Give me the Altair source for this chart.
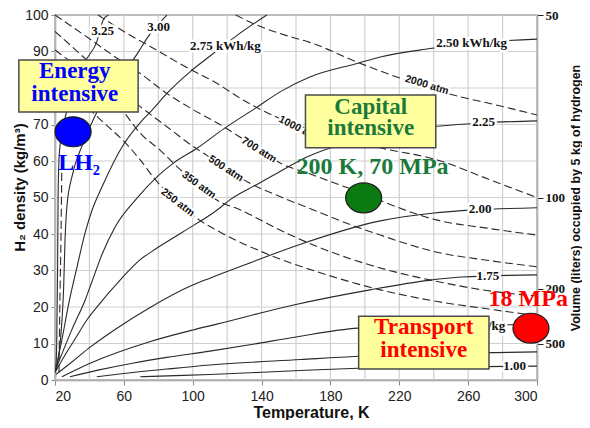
import altair as alt
import pandas as pd

# ---------------- axes ----------------
x_ticks = [20, 60, 100, 140, 180, 220, 260, 300]
y_ticks = [0, 10, 20, 30, 40, 50, 60, 70, 80, 90, 100]
grid_T = [20, 40, 60, 80, 100, 120, 140, 160, 180, 200, 220, 240, 260, 280, 300]
grid_d = [0, 10, 20, 30, 40, 50, 60, 70, 80, 90, 100]
volume_ticks = [50, 100, 200, 500]          # liters occupied by 5 kg H2
H2_MASS_KG = 5

# ---------------- constant-energy curves (kWh/kg), solid ----------------
T_325 = [20.3, 21.0, 21.5, 21.8, 22.5, 25.0, 30.0, 37.5, 44.3, 48.0, 51.0]
D_325 = [2, 10, 30, 50, 62, 70, 78, 87.2, 92.7, 98.6, 100]
T_300 = [20.5, 22.5, 24, 25, 25.8, 27, 30, 36, 43.5, 58.8, 68.5, 73.4, 85]
D_300 = [2.5, 8, 16, 25, 38, 48, 56, 64.5, 72.6, 83.1, 89.9, 93.6, 100]
T_275 = [20.5, 24, 28, 32.8, 37.6, 41.5, 47.4, 59, 69.5, 76.5, 85, 98.6, 108, 126, 143]
D_275 = [3, 11, 21, 31, 40.5, 46.5, 53, 63.9, 70.5, 74, 78.5, 84.5, 88, 94.5, 100]
T_250 = [20.5, 30, 37.6, 41.5, 47.4, 55, 67, 80, 89, 102.5, 118, 137.5, 151, 168, 196, 209, 238, 262, 300]
D_250 = [3, 14, 22, 27, 34.5, 42, 49.5, 56, 59.5, 63.5, 68.8, 74.8, 79, 83, 86.8, 88.5, 90.8, 92.3, 93.4]
T_225 = [20.5, 26, 32, 38.6, 43.5, 59, 69.5, 76.5, 94, 114, 122, 137, 151, 166, 200, 242, 270, 300]
D_225 = [2.5, 7, 11.5, 16.5, 19.5, 28, 33, 35.3, 40.5, 46.5, 49.5, 53.5, 57.2, 61, 66.3, 69.5, 70.5, 71]
T_200 = [20.5, 30, 40.4, 56, 75, 100, 110, 130, 162.6, 209, 239, 264, 300]
D_200 = [1.5, 5, 9, 14.2, 19.8, 26, 27.9, 31.5, 37.2, 43.6, 45.7, 46.6, 47.2]
T_175 = [24, 40.4, 75, 100, 114, 158, 203, 237, 256, 300]
D_175 = [0.9, 4.6, 10.5, 13.7, 15.3, 20.5, 24.7, 27.3, 28.2, 28.8]
T_150 = [28.7, 45, 65, 85, 110, 135, 160, 196, 240, 300]
D_150 = [0.9, 2.7, 4.6, 6.2, 7.9, 9.8, 11.8, 14.2, 14.9, 15.2]
T_125 = [44.3, 60, 85, 110, 162.6, 196, 250, 300]
D_125 = [0.9, 1.8, 3.0, 4.1, 5.6, 6.5, 7.3, 7.7]
T_100 = [69.5, 90, 110, 162.6, 196, 250, 300]
D_100 = [0.9, 1.2, 1.5, 2.6, 3.2, 3.6, 3.8]

# ---------------- isobars (atm), dashed ----------------
T_250atm = [20, 43.5, 63, 69.5, 78.4, 91, 104, 114, 145, 178, 209, 242, 271, 300]
D_250atm = [84, 72.6, 63.9, 60.3, 54.8, 49, 43.8, 41, 34.2, 28.8, 24.7, 21.5, 19.5, 17.6]
T_350atm = [20, 40, 59, 69.5, 81, 91, 103, 114, 127.7, 151, 178, 203, 242, 271, 300]
D_350atm = [90.4, 83, 74, 67.6, 63, 58.4, 53.6, 49.3, 46.6, 41, 35.5, 31.5, 27, 24.5, 23]
T_500atm = [20, 40, 55, 69.5, 85, 100.5, 108, 119, 131.6, 151, 168, 192, 209, 242, 271, 300]
D_500atm = [95.5, 87, 80.5, 74.9, 69.4, 63.9, 61.6, 58, 54.3, 50.2, 47, 42.5, 39.7, 35, 32.8, 31]
T_700atm = [20, 40, 55, 69.5, 85, 100.5, 118, 126, 138, 151, 168, 185, 200, 211, 242, 271, 300]
D_700atm = [100, 93.5, 88.5, 84, 78.5, 74, 69.4, 67, 63.2, 59.4, 56.5, 53.5, 51, 48.8, 43.8, 41.6, 39.7]
T_1000atm = [45, 60, 79, 95, 114, 130, 149, 180, 210, 242, 273, 300]
D_1000atm = [100, 95.5, 90.4, 86, 81.3, 76.5, 72, 67, 63.5, 60.3, 54.8, 50]
T_2000atm = [125, 135, 157, 168, 196, 221, 252, 275, 300]
D_2000atm = [100, 97.7, 94, 92.5, 87, 82.6, 78, 75.5, 72.6]
T_low = [22.3, 22.8, 23.5, 24.0]
D_low = [2, 20, 40, 60]

energy_curves = {
    "3.25": (T_325, D_325), "3.00": (T_300, D_300), "2.75": (T_275, D_275),
    "2.50": (T_250, D_250), "2.25": (T_225, D_225), "2.00": (T_200, D_200),
    "1.75": (T_175, D_175), "1.50": (T_150, D_150), "1.25": (T_125, D_125),
    "1.00": (T_100, D_100),
}
isobars = {
    "250": (T_250atm, D_250atm), "350": (T_350atm, D_350atm),
    "500": (T_500atm, D_500atm), "700": (T_700atm, D_700atm),
    "1000": (T_1000atm, D_1000atm), "2000": (T_2000atm, D_2000atm),
    "low": (T_low, D_low),
}

# ---------------- curve labels ----------------
energy_label_text = ["3.25", "3.00", "2.75 kWh/kg", "2.50 kWh/kg", "2.25", "2.00", "1.75", "1.50 kWh/kg", "1.00"]
energy_label_T = [47.6, 80.2, 119, 262, 269, 267, 271.5, 261, 287]
energy_label_d = [95.6, 96.6, 91.6, 92.3, 70.6, 46.8, 28.6, 14.8, 3.7]

iso_label_text = ["250 atm", "350 atm", "500 atm", "700 atm", "1000 atm", "2000 atm"]
iso_label_T = [91.3, 103.5, 119.2, 138.5, 162, 236]
iso_label_d = [48.6, 53.4, 57.9, 63.0, 68.8, 80.8]
iso_label_angle = [38, 36, 33, 32, 27, 17]

# ---------------- annotation boxes ----------------
box_T0 = [-1, 165.5, 196.4]
box_T1 = [68.3, 241.2, 272.1]
box_d0 = [73.4, 63.6, 3.0]
box_d1 = [87.7, 78.1, 17.5]

box_text = ["Energy", "intensive", "Capital", "intensive", "Transport", "intensive"]
box_text_T = [31.5, 31.5, 203.4, 203.4, 234.2, 234.2]
box_text_d = [84.6, 78.3, 74.8, 69.0, 14.6, 8.3]
box_text_region = ["energy", "energy", "capital", "capital", "transport", "transport"]

point_region = ["energy", "capital", "transport"]
point_T = [30.5, 199.3, 296.5]
point_d = [68.0, 49.9, 14.2]

point_label = ["LH\u2082", "200 K, 70 MPa", "18 MPa"]
point_label_T = [34.0, 204.5, 294.9]
point_label_d = [59.5, 58.4, 22.3]

region_names = ["energy", "capital", "transport"]
text_colors = ["#0000ff", "#1b7a3a", "#ff0000"]
dot_colors = ["#0000ff", "#0b7a10", "#ff0000"]

SANS = "Liberation Sans, Arial, sans-serif"
SERIF = "Liberation Serif, DejaVu Serif, serif"


def curves_df(curves):
    rows = []
    for name, (ts, ds) in curves.items():
        for i, (t, d) in enumerate(zip(ts, ds)):
            rows.append({"curve": name, "i": i, "T": t, "d": d})
    return pd.DataFrame(rows)


xs = alt.Scale(domain=[20, 300], nice=False, zero=False)
ys = alt.Scale(domain=[0, 100], nice=False, zero=False)

x_axis = alt.Axis(values=x_ticks, title="Temperature, K", grid=False,
                  titleFont=SANS, titleFontSize=16, titleFontWeight="bold", titleColor="#111",
                  titleX=256, titleY=37, titleBaseline="alphabetic", titleAlign="center",
                  labelFont=SANS, labelFontSize=14, labelColor="#222", labelPadding=4,
                  tickSize=5, tickColor="#888", domainColor="#8c8c8c", domainWidth=1.5)
y_axis = alt.Axis(values=y_ticks, title="H\u2082 density (kg/m\u00b3)", grid=False,
                  titleFont=SANS, titleFontSize=15, titleFontWeight="bold", titleColor="#111",
                  titleAngle=270, titleX=-36, titleY=172, titleAlign="center", titleBaseline="middle",
                  labelFont=SANS, labelFontSize=14, labelColor="#222", labelPadding=3,
                  tickSize=4, tickColor="#888", domainColor="#8c8c8c", domainWidth=1.5)


def X(f="T"):
    return alt.X(f"{f}:Q", scale=xs, axis=x_axis)


def Y(f="d"):
    return alt.Y(f"{f}:Q", scale=ys, axis=y_axis)


grid_x = alt.Chart(pd.DataFrame({"T": grid_T})).mark_rule(color="#d0d0d0", strokeWidth=1.2).encode(x=X())
grid_y = alt.Chart(pd.DataFrame({"d": grid_d})).mark_rule(color="#d0d0d0", strokeWidth=1.2).encode(y=Y())

solid = alt.Chart(curves_df(energy_curves)).mark_line(
    color="#2a2a2a", strokeWidth=1.1, interpolate="monotone").encode(
    x=X(), y=Y(), detail="curve:N", order="i:Q")
dashed = alt.Chart(curves_df(isobars)).mark_line(
    color="#2a2a2a", strokeWidth=1.1, strokeDash=[8, 4], interpolate="monotone").encode(
    x=X(), y=Y(), detail="curve:N", order="i:Q")

elab = pd.DataFrame({"text": energy_label_text, "T": energy_label_T, "d": energy_label_d})
elab_halo = alt.Chart(elab).mark_text(font=SERIF, fontSize=13, fontWeight="bold", color="white",
                                      stroke="white", strokeWidth=5, strokeJoin="round").encode(
    x=X(), y=Y(), text="text:N")
elab_txt = alt.Chart(elab).mark_text(font=SERIF, fontSize=13, fontWeight="bold", color="#111").encode(
    x=X(), y=Y(), text="text:N")

ilab = pd.DataFrame({"text": iso_label_text, "T": iso_label_T, "d": iso_label_d, "angle": iso_label_angle})
ilab_halo = alt.Chart(ilab).mark_text(font=SANS, fontSize=10.5, fontWeight="bold", color="white",
                                      stroke="white", strokeWidth=4, strokeJoin="round").encode(
    x=X(), y=Y(), text="text:N", angle=alt.Angle("angle:Q", scale=None))
ilab_txt = alt.Chart(ilab).mark_text(font=SANS, fontSize=10.5, fontWeight="bold", color="#111").encode(
    x=X(), y=Y(), text="text:N", angle=alt.Angle("angle:Q", scale=None))

boxes = alt.Chart(pd.DataFrame({"T0": box_T0, "T1": box_T1, "d0": box_d0, "d1": box_d1})).mark_rect(
    fill="#ffff9e", stroke="#4a4a4a", strokeWidth=1.5).encode(
    x=X("T0"), x2="T1:Q", y=Y("d0"), y2="d1:Q")

text_scale = alt.Scale(domain=region_names, range=text_colors)
btext = alt.Chart(pd.DataFrame({"text": box_text, "T": box_text_T, "d": box_text_d,
                                "region": box_text_region})).mark_text(
    font=SERIF, fontSize=23, fontWeight="bold", baseline="middle").encode(
    x=X(), y=Y(), text="text:N", color=alt.Color("region:N", scale=text_scale, legend=None))

ELLIPSE = "M -1 0 A 1 0.83 0 1 1 1 0 A 1 0.83 0 1 1 -1 0 Z"
dots = alt.Chart(pd.DataFrame({"region": point_region, "T": point_T, "d": point_d})).mark_point(
    shape=ELLIPSE, filled=True, size=1296, opacity=1, stroke="#1a1a1a", strokeWidth=1.2).encode(
    x=X(), y=Y(), fill=alt.Fill("region:N", scale=alt.Scale(domain=region_names, range=dot_colors), legend=None))

plabels = alt.Chart(pd.DataFrame({"text": point_label, "T": point_label_T, "d": point_label_d,
                                  "region": point_region})).mark_text(
    font=SERIF, fontSize=24, fontWeight="bold", baseline="middle").encode(
    x=X(), y=Y(), text="text:N", color=alt.Color("region:N", scale=text_scale, legend=None))

main = alt.layer(grid_x, grid_y, solid, dashed, elab_halo, elab_txt, ilab_halo, ilab_txt,
                 boxes, btext, dots, plabels)

# right axis: volume occupied by 5 kg of hydrogen -> density = 5000 / V
right_vals = [H2_MASS_KG * 1000 / v for v in volume_ticks]
right_axis = alt.Axis(orient="right", values=right_vals,
                      labelExpr=f"format({H2_MASS_KG * 1000} / datum.value, 'd')",
                      title="Volume (liters) occupied by 5 kg of hydrogen", grid=False,
                      titleFont=SANS, titleFontSize=12.5, titleFontWeight="bold", titleColor="#111",
                      titleAngle=270, titleX=38, titleY=182.5, titleAlign="center", titleBaseline="middle",
                      labelFont=SERIF, labelFontSize=13, labelFontWeight="bold", labelColor="#111",
                      labelPadding=2, tickSize=6, tickColor="#222", domainColor="#8c8c8c", domainWidth=1.5)
right = alt.Chart(pd.DataFrame({"V": volume_ticks})).transform_calculate(
    dens=f"{H2_MASS_KG * 1000} / datum.V").mark_point(opacity=0).encode(
    y=alt.Y("dens:Q", scale=ys, axis=right_axis))

chart = alt.layer(main, right).resolve_scale(y="independent").properties(
    width=482, height=365,
    autosize=alt.AutoSizeParams(type="none"),
    padding={"left": 47, "top": 7, "right": 45, "bottom": 40},
).configure_view(stroke="#8c8c8c", strokeWidth=1.5)

chart.save("out.html", embed_options={"renderer": "svg", "actions": False})
